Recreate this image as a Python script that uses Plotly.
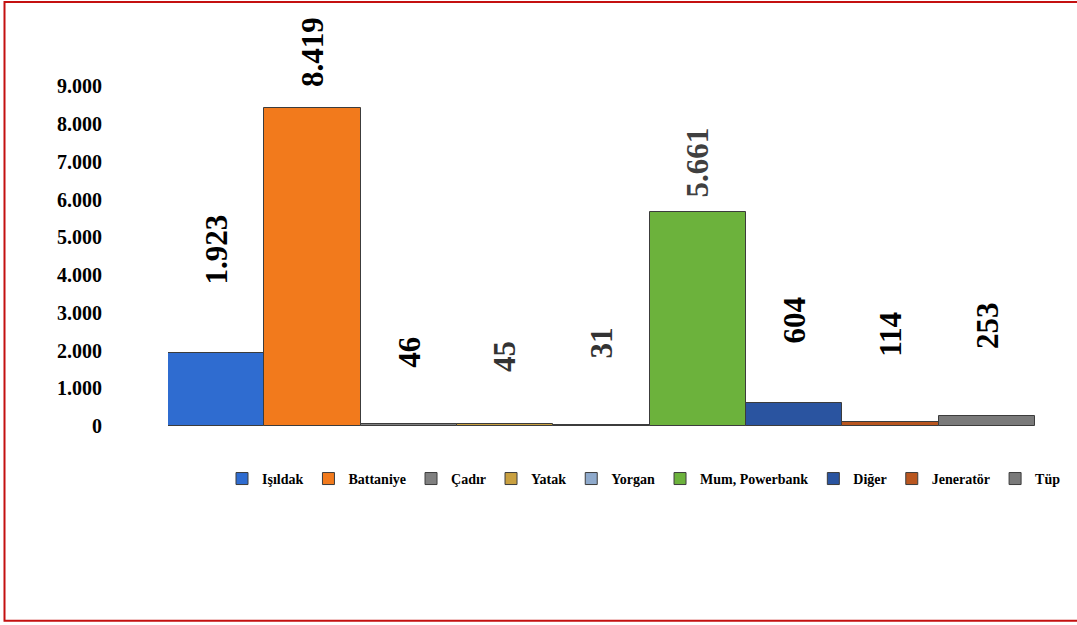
import plotly.graph_objects as go

# ---- data ----
categories = ["Işıldak", "Battaniye", "Çadır", "Yatak", "Yorgan",
              "Mum, Powerbank", "Diğer", "Jeneratör", "Tüp"]
values = [1923, 8419, 46, 45, 31, 5661, 604, 114, 253]
y_ticks = [0, 1000, 2000, 3000, 4000, 5000, 6000, 7000, 8000, 9000]

# ---- style ----
bar_colors = ["#2F6CD0", "#F27A1C", "#808080", "#C9A040", "#8FAACC",
              "#6CB23C", "#2A54A0", "#B9561F", "#7A7A7A"]
label_colors = ["#000000", "#000000", "#000000", "#333333", "#333333",
                "#404040", "#000000", "#000000", "#000000"]
# vertical centre of each rotated value label (axis units, hand-placed as in source)
label_pos = [4680, 9900, 1960, 1830, 2200, 6980, 2800, 2430, 2670]

W, H = 1300, 625
Y_TOP = 10600                      # headroom so the tallest label stays inside the axis
ZERO_PX, TICK9K_PX = 426, 86        # pixel rows of 0 and 9.000
PX_PER_UNIT = (ZERO_PX - TICK9K_PX) / 9000
ML, MR = 168, 10
MB = H - ZERO_PX
MT = ZERO_PX - Y_TOP * PX_PER_UNIT
PW, PH = W - ML - MR, H - MT - MB
CAT_PX = 867 / len(categories)      # pixel width of one category slot
X_MAX = -0.5 + PW / CAT_PX          # plot runs past the visible window

def px_x(p):
    return (p - ML) / PW

def px_y(p):
    return (H - MB - p) / PH

SERIF = "Liberation Serif, Times New Roman, serif"

fig = go.Figure()
for cat, val, col in zip(categories, values, bar_colors):
    fig.add_trace(go.Bar(
        x=[cat], y=[val], name=cat,
        marker=dict(color=col, line=dict(color="#3C3C3C", width=1)),
        hoverinfo="x+y",
    ))

for cat, val, pos, col in zip(categories, values, label_pos, label_colors):
    fig.add_annotation(
        x=cat, y=pos, xref="x", yref="y",
        text="<b>" + f"{val:,}".replace(",", ".") + "</b>",
        textangle=-90, showarrow=False,
        xanchor="center", yanchor="middle",
        font=dict(family=SERIF, size=31, color=col),
    )

fig.add_shape(type="rect", xref="paper", yref="paper",
              x0=px_x(4.5), x1=px_x(W - 2), y0=px_y(621), y1=px_y(1.5),
              line=dict(color="#C41010", width=2), fillcolor="rgba(0,0,0,0)",
              layer="below")

fig.update_layout(
    width=W, height=H,
    margin=dict(l=ML, r=MR, t=MT, b=MB, pad=0),
    paper_bgcolor="white", plot_bgcolor="white",
    barmode="overlay", bargap=0,
    separators=",.",
    showlegend=True,
    legend=dict(orientation="h", x=px_x(222), xanchor="left",
                y=px_y(479), yanchor="middle",
                font=dict(family=SERIF, size=14, color="#000000", weight="bold"),
                bgcolor="rgba(0,0,0,0)", traceorder="normal",
                itemclick=False, itemdoubleclick=False),
    xaxis=dict(type="category", categoryorder="array", categoryarray=categories,
               range=[-0.5, X_MAX],
               showticklabels=False, showgrid=False, zeroline=False,
               showline=False, ticks=""),
    yaxis=dict(range=[0, Y_TOP], tickvals=y_ticks, tickformat=",.0f",
               showgrid=False, zeroline=False, showline=False, ticks="",
               ticklabelstandoff=65,
               tickfont=dict(family=SERIF, size=20, color="#000000", weight="bold")),
)

fig.write_html("out.html",
               config={"displayModeBar": False},
               post_script="document.body.style.margin='0';document.body.style.overflow='hidden';")
